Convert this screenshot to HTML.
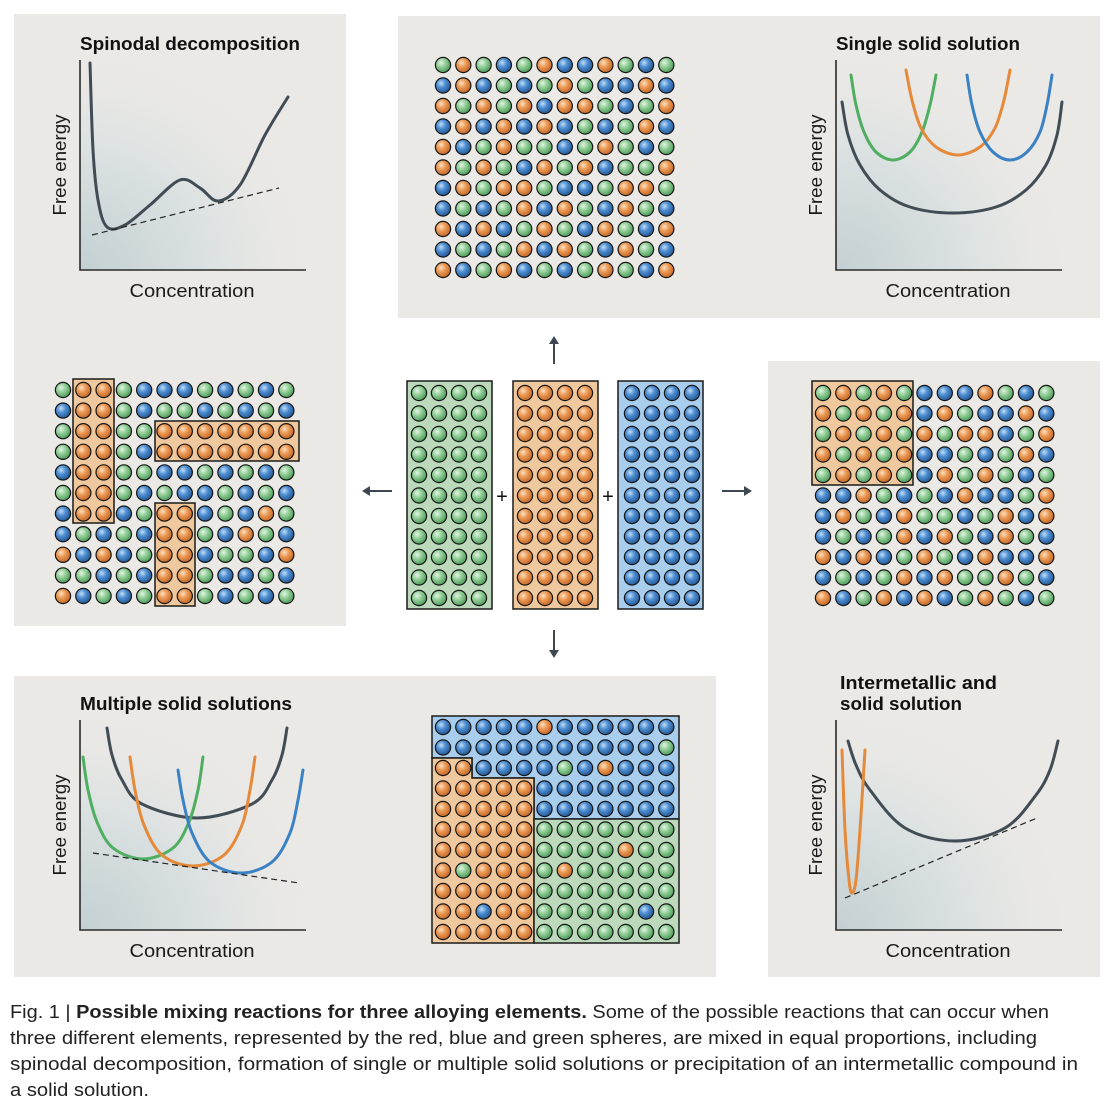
<!DOCTYPE html>
<html><head><meta charset="utf-8">
<style>
html,body{margin:0;padding:0;background:#fff;}
svg{display:block;font-family:"Liberation Sans",sans-serif;}
</style></head>
<body>
<svg id="fig" width="1112" height="1107" viewBox="0 0 1112 1107" xmlns="http://www.w3.org/2000/svg">
<defs>
<radialGradient id="sg" cx="38%" cy="35%" r="65%"><stop offset="0" stop-color="#e4f4e4"/><stop offset="0.45" stop-color="#93cf98"/><stop offset="1" stop-color="#4f9c5c"/></radialGradient>
<radialGradient id="so" cx="38%" cy="35%" r="65%"><stop offset="0" stop-color="#fbe0c2"/><stop offset="0.45" stop-color="#ec9a55"/><stop offset="1" stop-color="#c4692a"/></radialGradient>
<radialGradient id="sb" cx="38%" cy="35%" r="65%"><stop offset="0" stop-color="#c2ddf6"/><stop offset="0.45" stop-color="#4d8ed2"/><stop offset="1" stop-color="#275a96"/></radialGradient>
<radialGradient id="area" cx="0" cy="1" r="1.1"><stop offset="0" stop-color="#c3d0d3"/><stop offset="0.55" stop-color="#dde2e2"/><stop offset="1" stop-color="#ebe9e6" stop-opacity="0"/></radialGradient>
</defs>

<rect x="14" y="14" width="332" height="612" fill="#ebe9e6"/>
<rect x="398" y="16" width="702" height="302" fill="#ebe9e6"/>
<rect x="768" y="361" width="332" height="616" fill="#ebe9e6"/>
<rect x="14" y="676" width="702" height="301" fill="#ebe9e6"/>

<g id="charts"></g>
<g id="grids"></g>

<g stroke="#3f4850" stroke-width="2" fill="#3f4850">
<line x1="554" y1="364" x2="554" y2="342"/><path d="M549,344 L554,336 L559,344Z" stroke="none"/>
<line x1="554" y1="630" x2="554" y2="652"/><path d="M549,650 L554,658 L559,650Z" stroke="none"/>
<line x1="392" y1="491" x2="368" y2="491"/><path d="M370,486 L362,491 L370,496Z" stroke="none"/>
<line x1="722" y1="491" x2="746" y2="491"/><path d="M744,486 L752,491 L744,496Z" stroke="none"/>
</g>
<text x="502" y="503" font-size="20" text-anchor="middle" fill="#111">+</text>
<text x="608" y="503" font-size="20" text-anchor="middle" fill="#111">+</text>

<g fill="#222" font-size="18">
<text x="10" y="1018" textLength="1039" lengthAdjust="spacingAndGlyphs">Fig. 1 | <tspan font-weight="bold">Possible mixing reactions for three alloying elements.</tspan> Some of the possible reactions that can occur when</text>
<text x="10" y="1044" textLength="1027" lengthAdjust="spacingAndGlyphs">three different elements, represented by the red, blue and green spheres, are mixed in equal proportions, including</text>
<text x="10" y="1070" textLength="1068" lengthAdjust="spacingAndGlyphs">spinodal decomposition, formation of single or multiple solid solutions or precipitation of an intermetallic compound in</text>
<text x="10" y="1096" textLength="139" lengthAdjust="spacingAndGlyphs">a solid solution.</text>
</g>
</svg>

<script>
// ---- sphere grid data (g=green, o=orange, b=blue) ----
const topGrid = ["gogbgobbogbg","bobgbgogbbob","ogogoboogbgo","bobobobgbgob","obgoggbgogbg","ogogbogobggo","bogoogbbgoog","bgbgobogbogb","obobgogbogbo","bgbgobogbogb","obgobgbgogbo"];
const leftGrid = ["googbbbgbgbg","boogbggbgbgb","googgooooooo","googbooooooo","booggbbgbgbg","googbgbbgbgb","boobgoobgbog","bgbgboogbogb","obobgoobggbo","ggbgboogbbgb","obgbgoogbgbg"];
const rightGrid = ["gogogbbbogbg","ogogobogbbob","gogogogoobgo","ogogobbgbgob","gogogbogogbg","bbogbgbobbgo","bogboggbgobo","bgbgobogbogb","obobgogbobbo","bgbgoboggogb","obgobobgogbg"];
const bottomGrid = ["bbbbbobbbbbb","bbbbbbbbbbbg","oobbbbgbobbb","ooooobbbbbbb","ooooobbbbbbb","oooooggggggg","oooooggggogg","ogooogoggggg","oooooggggggg","ooboogggggbg","oooooggggggg"];
const columnColors = ["g","o","b"];

// ---- free-energy curve data (x: offset along concentration axis, y: height above axis) ----
const spinodalCurve = [[10,207],[13,120],[18,70],[27,43],[45,45],[70,65],[100,90],[120,82],[138,69],[160,85],[185,135],[208,173]];
const spinodalTangent = [[12,35],[199,82]];
const singleTotal = [[6,168],[12,135],[24,105],[44,80],[74,63],[117,57],[160,63],[190,80],[210,105],[221,135],[226,168]];
const singleGreen = [[15,195],[20,165],[28,138],[40,118],[57,110],[74,118],[86,138],[94,165],[100,195]];
const singleOrange = [[70,200],[76,170],[85,142],[100,123],[122,115],[144,123],[159,142],[168,170],[174,200]];
const singleBlue = [[131,195],[136,165],[144,138],[157,118],[174,110],[191,118],[204,138],[211,165],[216,195]];
const multiBlack = [[27,202],[32,175],[42,150],[62,126],[117,112],[172,126],[192,150],[202,175],[207,202]];
const multiGreen = [[3,173],[8,140],[17,108],[33,82],[63,71],[93,82],[109,108],[118,140],[123,173]];
const multiOrange = [[50,173],[55,140],[64,105],[82,75],[113,64],[144,75],[162,105],[170,140],[175,173]];
const multiBlue = [[98,160],[103,130],[112,97],[130,68],[161,57],[192,68],[210,97],[218,130],[223,160]];
const multiTangent = [[13,77],[219,47]];
const interBlack = [[12,189],[20,165],[34,140],[69,102],[119,89],[169,102],[200,135],[214,160],[222,189]];
const interOrange = [[6,180],[9,100],[13,50],[16,37],[20,50],[24,100],[29,180]];
const interTangent = [[9,32],[201,112]];

const NS = "http://www.w3.org/2000/svg";
function mk(tag, attrs, parent){const e=document.createElementNS(NS,tag);for(const k in attrs)e.setAttribute(k,attrs[k]);parent.appendChild(e);return e;}
const fillMap={g:"url(#sg)",o:"url(#so)",b:"url(#sb)"};
const grids=document.getElementById("grids");
const charts=document.getElementById("charts");

function drawBoxes(boxes,col){
  boxes.forEach(b=>{
    const r=mk("path",{d:b,fill:col,stroke:"#1a1a1a","stroke-width":1.5},grids);
    
    
  });
}
function drawGrid(rows,x0,y0,dx,dy,name){
  const g=mk("g",{},grids);
  
  
  rows.forEach((row,ri)=>{
    for(let ci=0;ci<row.length;ci++){
      const c=mk("circle",{cx:x0+ci*dx,cy:y0+ri*dy,r:7.6,fill:fillMap[row[ci]],stroke:"#151515","stroke-width":1.2},g);
      
      
    }
  });
}

drawBoxes(["M73,379H114V523H73Z","M155,421H299V461H155Z","M155,503H195V606H155Z"],"#efc89d");
drawBoxes(["M812,381H913V485H812Z"],"#efc89d");
drawBoxes(["M432,716H679V819H534V778H472V758H432Z"],"#a9cdec");
drawBoxes(["M432,758H472V778H534V943H432Z"],"#efc89d");
drawBoxes(["M534,819H679V943H534Z"],"#bcd9bc");
drawBoxes(["M407,381H492V609H407Z"],"#bcd9bc");
drawBoxes(["M513,381H598V609H513Z"],"#efc89d");
drawBoxes(["M618,381H703V609H618Z"],"#a9cdec");

drawGrid(topGrid,443,65,20.3,20.5,"grid-random-mix");
drawGrid(leftGrid,63,390,20.3,20.6,"grid-spinodal");
drawGrid(rightGrid,823,393,20.3,20.5,"grid-intermetallic");
drawGrid(bottomGrid,443,727,20.3,20.5,"grid-multiple-solutions");
const colX=[419,525,632];
columnColors.forEach((c,k)=>{
  const rows=[];for(let i=0;i<11;i++)rows.push(c.repeat(4));
  drawGrid(rows,colX[k],393,20,20.5,"pure-element-column");
});

function smoothPath(pts){
  let d="M"+pts[0][0]+","+pts[0][1];
  for(let i=0;i<pts.length-1;i++){
    const p0=pts[Math.max(0,i-1)],p1=pts[i],p2=pts[i+1],p3=pts[Math.min(pts.length-1,i+2)];
    const c1=[p1[0]+(p2[0]-p0[0])/6,p1[1]+(p2[1]-p0[1])/6];
    const c2=[p2[0]-(p3[0]-p1[0])/6,p2[1]-(p3[1]-p1[1])/6];
    d+=" C"+c1[0]+","+c1[1]+" "+c2[0]+","+c2[1]+" "+p2[0]+","+p2[1];
  }
  return d;
}
function chart(cfg){
  const g=mk("g",{},charts);
  
  
  const X=v=>cfg.x0+v, Y=v=>cfg.y0-v;
  const a=mk("rect",{x:cfg.x0,y:cfg.y0-210,width:226,height:210,fill:"url(#area)"},g);
  
  
  cfg.curves.forEach(c=>{
    const p=mk("path",{d:smoothPath(c.pts.map(q=>[X(q[0]),Y(q[1])])),fill:"none",stroke:c.col,"stroke-width":3,"stroke-linecap":"round"},g);
    
    
  });
  if(cfg.tangent){
    const t=mk("line",{x1:X(cfg.tangent[0][0]),y1:Y(cfg.tangent[0][1]),x2:X(cfg.tangent[1][0]),y2:Y(cfg.tangent[1][1]),stroke:"#222","stroke-width":1.2,"stroke-dasharray":"6,4"},g);
    
    
  }
  const ax=mk("path",{d:"M"+cfg.x0+","+(cfg.y0-210)+"V"+cfg.y0+"H"+(cfg.x0+226),fill:"none",stroke:"#2a2a2a","stroke-width":1.6},g);
  
  
  const xl=mk("text",{x:cfg.x0+112,y:cfg.y0+27,"font-size":18,"text-anchor":"middle",fill:"#1a1a1a",textLength:125,lengthAdjust:"spacingAndGlyphs"},g);
  xl.textContent="Concentration";
  
  
  const cy=cfg.y0-105;
  const yl=mk("text",{x:cfg.x0-14,y:cy,"font-size":18,"text-anchor":"middle",fill:"#1a1a1a",transform:"rotate(-90 "+(cfg.x0-14)+" "+cy+")",textLength:101,lengthAdjust:"spacingAndGlyphs"},g);
  yl.textContent="Free energy";
  
  
  cfg.title.forEach((t,i)=>{
    const tt=mk("text",{x:cfg.tx,y:cfg.ty+i*21,"font-size":18,"font-weight":"bold",fill:"#111",textLength:t[1],lengthAdjust:"spacingAndGlyphs"},g);
    tt.textContent=t[0];
    
    
  });
}
const K="#414c54",G="#4fae60",O="#e58a3a",B="#3a82c4";
chart({name:"spinodal-chart",x0:80,y0:270,tx:80,ty:50,title:[["Spinodal decomposition",220]],tangent:spinodalTangent,
  curves:[{pts:spinodalCurve,col:K,name:"free-energy-curve"}]});
chart({name:"single-solution-chart",x0:836,y0:270,tx:836,ty:50,title:[["Single solid solution",184]],
  curves:[{pts:singleTotal,col:K,name:"solution-curve"},{pts:singleGreen,col:G,name:"green-curve"},{pts:singleOrange,col:O,name:"orange-curve"},{pts:singleBlue,col:B,name:"blue-curve"}]});
chart({name:"multiple-solutions-chart",x0:80,y0:930,tx:80,ty:710,title:[["Multiple solid solutions",212]],tangent:multiTangent,
  curves:[{pts:multiBlack,col:K,name:"mixed-curve"},{pts:multiGreen,col:G,name:"green-curve"},{pts:multiOrange,col:O,name:"orange-curve"},{pts:multiBlue,col:B,name:"blue-curve"}]});
chart({name:"intermetallic-chart",x0:836,y0:930,tx:840,ty:689,title:[["Intermetallic and",157],["solid solution",122]],tangent:interTangent,
  curves:[{pts:interBlack,col:K,name:"solution-curve"},{pts:interOrange,col:O,name:"intermetallic-curve"}]});
</script>
</body></html>
